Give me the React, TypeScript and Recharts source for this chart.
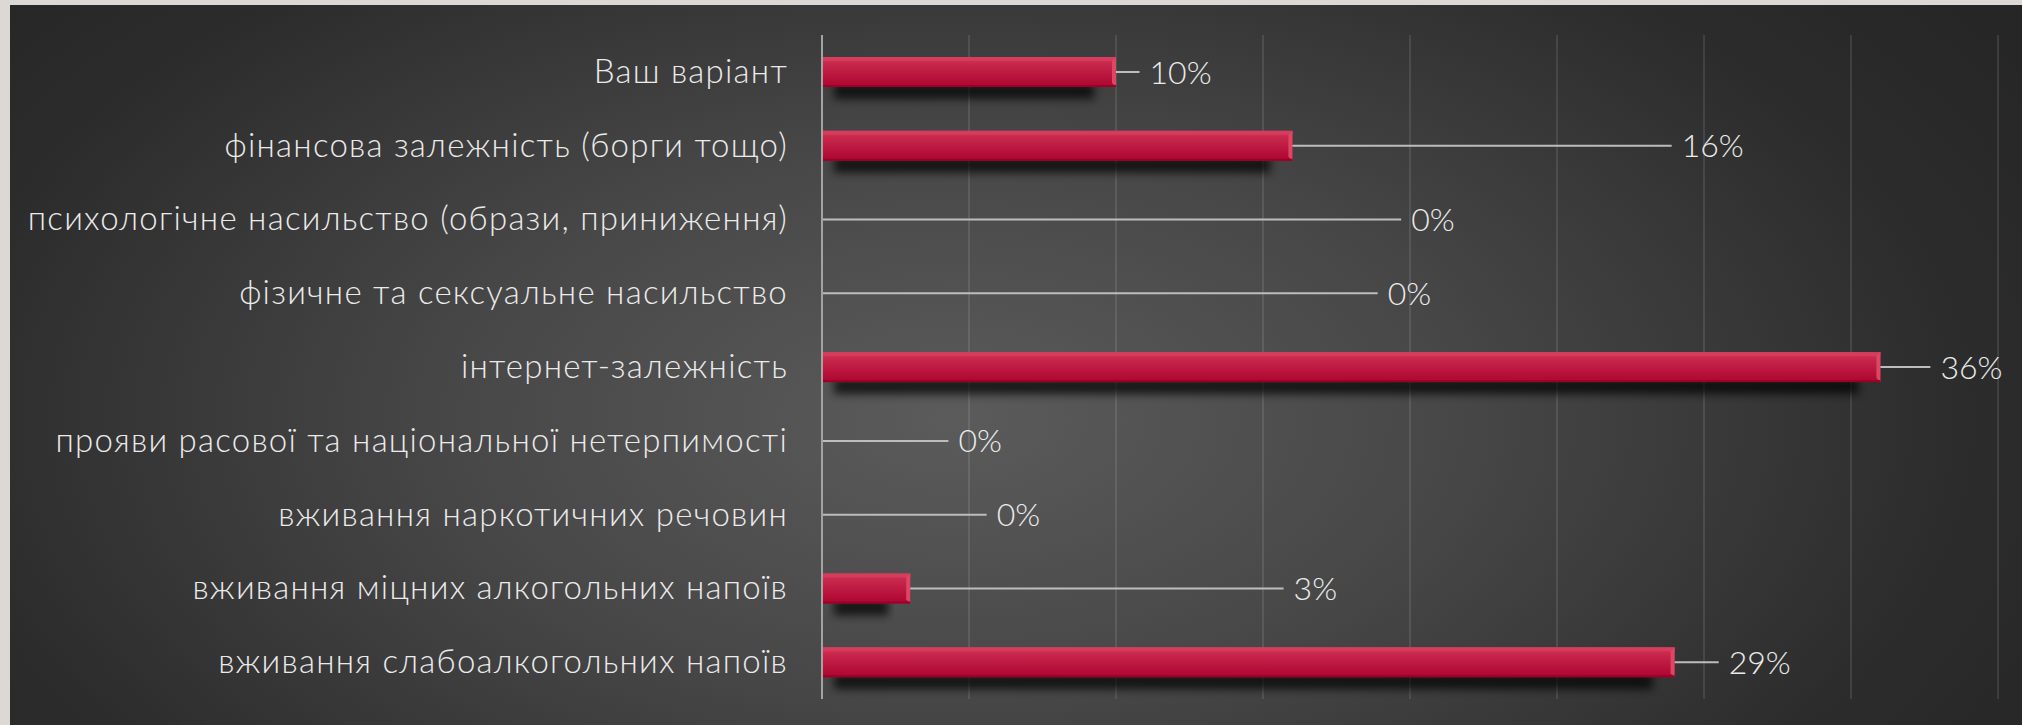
import React from 'react'
import { BarChart, Bar, XAxis, YAxis, CartesianGrid } from 'recharts'

// категорії зверху вниз
const categories = [
  'Ваш варіант',
  'фінансова залежність (борги тощо)',
  'психологічне насильство (образи, приниження)',
  'фізичне та сексуальне насильство',
  'інтернет-залежність',
  'прояви расової та національної нетерпимості',
  'вживання наркотичних речовин',
  'вживання міцних алкогольних напоїв',
  'вживання слабоалкогольних напоїв'
]

// частка відповідей, %
const values = [10, 16, 0, 0, 36, 0, 0, 3, 29]

// де закінчується виносна лінія підпису (у % по осі)
const labelAt = [10.8, 28.9, 19.7, 18.9, 37.7, 4.3, 5.6, 15.7, 30.5]

const xTicks = [0, 5, 10, 15, 20, 25, 30, 35, 40]

const data = categories.map((name, i) => ({
  name,
  value: values[i],
  leader: labelAt[i] - values[i]
}))

const FONT = "'Century Gothic', Lato, 'Open Sans', sans-serif"
const TEXT = '#ebebeb'

const CategoryTick = ({ x, y, payload }: any) => (
  <text
    x={x - 26}
    y={y - 2}
    textAnchor="end"
    dominantBaseline="central"
    fill={TEXT}
    fontFamily={FONT}
    fontWeight={300}
    fontSize={33}
    letterSpacing={1.25}
  >
    {payload.value}
  </text>
)

const RedBar = ({ x, y, width, height }: any) => {
  if (!width || width <= 0) return null
  const bevel = 4
  return (
    <g>
      <rect
        x={x + 12}
        y={y + height - 4}
        width={Math.max(width - 34, 0)}
        height={16}
        fill="#000"
        opacity={0.7}
        filter="url(#barShadow)"
      />
      <rect x={x} y={y} width={width} height={height} fill="url(#barFill)" />
      <rect x={x} y={y} width={width} height={bevel} fill="#d8405f" opacity={0.7} />
      <polygon
        points={`${x + width - bevel},${y + bevel} ${x + width},${y} ${x + width},${y + height} ${x + width - bevel},${y + height - bevel}`}
        fill="#e04563"
      />
      <rect x={x} y={y + height - 2} width={width} height={2} fill="#9c0026" />
    </g>
  )
}

const Leader = ({ x, y, width, height, payload }: any) => {
  const cy = y + height / 2
  const end = x + width
  return (
    <g>
      <line x1={x} y1={cy} x2={end} y2={cy} stroke="#bdbdbd" strokeWidth={2} />
      <text
        x={end + 10}
        y={cy - 1}
        dominantBaseline="central"
        fill={TEXT}
        fontFamily={FONT}
        fontWeight={300}
        fontSize={32}
      >
        {`${payload.value}%`}
      </text>
    </g>
  )
}

export default function App() {
  return (
    <div
      style={{
        position: 'relative',
        width: 2022,
        height: 725,
        background: '#dcd9d4',
        overflow: 'hidden'
      }}
    >
      <style>{'html,body{margin:0;overflow:hidden;background:#262626}'}</style>
      <div
        style={{
          position: 'absolute',
          left: 10,
          top: 5,
          width: 2400,
          height: 800,
          background: 'radial-gradient(ellipse 1260px 690px at 942px 415px, #5b5b5b 0%, #474747 40%, #2c2c2c 80%, #262626 100%)'
        }}
      />
      <div style={{ position: 'absolute', left: 0, top: 0 }}>
        <BarChart
          width={2022}
          height={725}
          data={data}
          layout="vertical"
          margin={{ top: 35, right: 24, bottom: 26, left: 0 }}
          barSize={30}
        >
          <defs>
            <linearGradient id="barFill" x1="0" y1="0" x2="0" y2="1">
              <stop offset="0%" stopColor="#d4375a" />
              <stop offset="20%" stopColor="#c9294d" />
              <stop offset="55%" stopColor="#bc1840" />
              <stop offset="100%" stopColor="#ad0530" />
            </linearGradient>
            <filter id="barShadow" x="-10%" y="-100%" width="120%" height="300%">
              <feGaussianBlur stdDeviation="4" />
            </filter>
          </defs>
          <CartesianGrid horizontal={false} stroke="#ffffff" strokeOpacity={0.1} strokeWidth={2} />
          <XAxis type="number" domain={[0, 40]} ticks={xTicks} hide />
          <YAxis
            type="category"
            dataKey="name"
            width={822}
            axisLine={{ stroke: '#a3a3a3', strokeWidth: 2 }}
            tickLine={false}
            tick={<CategoryTick />}
            interval={0}
          />
          <Bar dataKey="value" stackId="s" shape={<RedBar />} isAnimationActive={false} />
          <Bar dataKey="leader" stackId="s" shape={<Leader />} isAnimationActive={false} />
        </BarChart>
      </div>
    </div>
  )
}
